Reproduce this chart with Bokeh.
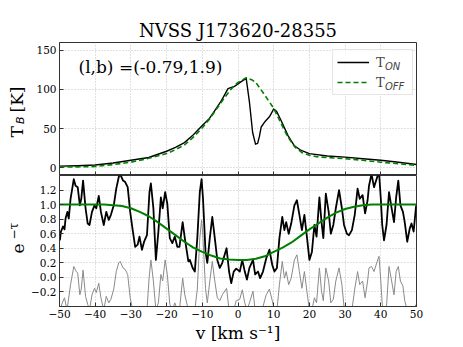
import math
from bokeh.plotting import figure
from bokeh.models import (Range1d, FixedTicker, CustomJSTickFormatter, Label,
                          Legend, LegendItem, CustomLabelingPolicy)
from bokeh.layouts import column, row
from bokeh.embed import file_html
from bokeh.resources import INLINE

# ---------------- data ----------------
title_text = "NVSS J173620-28355"
coord_text = "(l,b) =(-0.79,1.9)"
xlabel_text = "v [km s\u207b\u00b9]"
legend_main = ["T", "T"]
legend_sub = ["ON", "OFF"]

x_ticks = [-50, -40, -30, -20, -10, 0, 10, 20, 30, 40, 50]
tb_ticks = [0, 50, 100, 150]
tau_ticks = [-0.2, 0.0, 0.2, 0.4, 0.6, 0.8, 1.0, 1.2]

# emission: on-source
v_on = [-50, -45, -40, -35, -30, -25, -20, -17.5, -15, -12.5, -10, -8, -6.5, -4.6,
        -2.8, -1, 0.9, 2.3, 3.2, 4.1, 4.9, 5.5, 6.0, 6.5, 7.4, 8.8, 10.0, 10.8,
        12.1, 14.0, 15.8, 17.7, 20, 25, 30, 35, 40, 45, 50]
t_on = [2, 2.5, 3.5, 6, 9.5, 13, 21, 26, 32, 42, 54, 63, 73, 86,
        101, 104, 110, 114, 84, 45, 30, 31, 40, 52, 58, 65, 75, 72,
        60, 41, 28, 22, 18, 15, 13.5, 11.5, 9.5, 7, 4]

# emission: off-source (expected)
v_off = [-50, -45, -40, -35, -30, -25, -20, -17.5, -15, -12.5, -10, -8, -6, -4, -2,
         0, 2.3, 4, 5, 7, 8.5, 10, 12, 14, 16, 18, 20, 22, 25, 30, 35, 40, 45, 50]
t_off = [1, 1, 1.5, 4, 7, 12, 18, 23, 29, 39, 51, 62, 75, 88, 100,
         109, 115, 112, 109, 96, 86, 76, 57, 39, 26, 19, 16, 14, 13, 11.5, 9.5, 7, 5, 3]

# absorption spectrum e^-tau
v_abs = [-49.9, -49.6, -49.0, -48.6, -48.3, -47.8, -47.4, -46.9, -46.0, -45.5, -44.9,
         -44.3, -43.9, -43.4, -42.7, -42.1, -41.6, -40.9, -40.2, -39.7, -39.0, -38.4,
         -37.6, -36.9, -36.2, -35.6, -34.8, -34.1, -33.4, -33.0, -32.2, -31.6, -30.9,
         -30.2, -29.5, -28.8, -28.1, -27.6, -26.9, -26.3, -25.5, -24.8, -24.4, -23.7,
         -23.0, -22.3, -21.6, -21.1, -20.4, -19.8, -19.1, -18.4, -17.7, -17.0, -16.4,
         -15.5, -14.9, -13.9, -13.5, -12.7, -12.1, -11.4, -10.7, -10.2, -9.8, -9.1,
         -8.6, -7.9, -7.2, -6.5, -5.8, -5.1, -4.4, -3.2, -2.5, -1.9, -1.2, -0.5, 0.5,
         1.2, 1.9, 2.5, 3.2, 4.2, 4.8, 5.6, 6.2, 7.0, 7.9, 8.8, 9.6, 10.2, 10.9, 11.6,
         12.4, 13.0, 13.5, 14.2, 14.9, 15.8, 16.5, 17.2, 17.9, 18.6, 19.3, 20.0, 20.7,
         21.4, 22.0, 22.8, 23.4, 23.9, 24.6, 25.4, 26.0, 26.7, 27.4, 28.3, 29.1, 29.7,
         30.5, 31.1, 31.9, 32.7, 33.5, 34.1, 34.9, 35.6, 36.3, 36.7, 37.4, 38.1, 39.0,
         39.5, 40.0, 40.4, 40.9, 41.6, 42.3, 42.9, 43.7, 44.3, 44.9, 45.5, 46.2, 46.7,
         47.4, 48.1, 48.6, 49.2, 49.9]
e_tau = [0.51, 0.63, 0.70, 0.66, 0.81, 0.90, 0.81, 1.08, 1.35, 1.26, 1.24,
         0.99, 1.08, 1.33, 0.95, 0.74, 0.72, 0.90, 0.99, 0.95, 1.12, 0.90,
         0.72, 0.90, 0.79, 0.86, 0.99, 1.22, 1.38, 1.42, 1.33, 1.31, 1.24,
         0.90, 0.65, 0.42, 0.45, 0.56, 0.38, 0.49, 0.58, 1.17, 1.29, 0.95,
         0.24, 0.63, 1.10, 0.95, 1.17, 1.01, 0.54, 0.47, 0.56, 0.42, 0.42,
         0.76, 0.54, 0.22, 0.24, 0.13, 0.08, 0.54, 1.17, 1.35, 1.08, 0.35,
         0.20, 0.54, 0.83, 0.54, 0.24, 0.13, 0.20, 0.40, 0.08, -0.08, 0.08, 0.12, 0.08,
         0.24, 0.08, -0.03, 0.13, 0.24, 0.04, 0.08, -0.01, 0.08, 0.26, 0.38, 0.17, 0.08, 0.13, 0.54,
         0.83, 0.65, 0.76, 0.60, 0.74, 0.99, 1.06, 0.86, 0.65, 0.86, 0.56, 0.24, 0.35,
         0.72, 0.56, 1.10, 0.76, 0.54, 1.15, 0.90, 0.60, 0.72, 0.95, 1.20, 0.95, 0.72,
         0.60, 0.58, 0.65, 0.86, 1.22, 1.08, 1.13, 0.88, 1.06, 1.26, 1.42, 1.24, 1.38,
         1.45, 1.08, 0.72, 0.51, 0.72, 1.17, 0.99, 0.76, 1.10, 1.33, 0.99, 0.90, 0.76,
         0.49, 0.67, 0.74, 0.63, 0.99]

# residual (grey)
v_res = [-49.9, -49.2, -48.6, -47.9, -46.9, -46.0, -45.3, -44.9, -44.3, -43.9, -43.4,
         -42.7, -42.1, -41.6, -40.9, -40.2, -39.7, -39.0, -38.4, -37.6, -36.9, -36.2,
         -35.6, -34.8, -34.1, -33.4, -33.0, -32.2, -31.6, -30.9, -30.2, -29.5, -25.5,
         -24.9, -24.4, -23.7, -23.0, -22.3, -21.6, -21.1, -20.4, -19.8, -19.1, -18.4,
         -17.7, -17.0, -16.4, -15.5, -14.9, -13.9, -12.1, -11.4, -10.7, -10.2, -9.8,
         -9.1, -8.6, -7.9, -7.2, -6.5, -5.8, -5.1, -4.4, -3.2, -2.5, -1.2, -0.5, 0.5,
         1.2, 1.9, 2.5, 3.2, 4.2, 4.8, 7.0, 7.9, 8.8, 9.6, 10.2, 10.9, 11.6, 12.4, 13.0,
         13.5, 14.2, 14.9, 15.8, 16.5, 17.2, 17.9, 18.6, 19.3, 20.0, 20.7, 21.4, 22.0,
         22.8, 23.4, 23.9, 24.6, 25.4, 26.0, 26.7, 27.4, 28.3, 29.1, 29.7, 30.5, 31.9,
         32.7, 33.5, 34.1, 34.9, 35.6, 36.3, 36.7, 37.4, 38.1, 39.0, 39.5, 40.0, 40.4,
         40.9, 41.6, 42.3, 42.9, 43.7, 44.3, 44.9, 45.5, 46.2, 46.7, 47.4, 49.2, 49.9]
resid = [-0.45, -0.35, -0.28, -0.45, -0.10, 0.15, 0.08, 0.06, -0.24, -0.16, 0.10,
         -0.26, -0.37, -0.45, -0.24, -0.15, -0.21, -0.08, -0.28, -0.45, -0.26, -0.35,
         -0.30, -0.16, 0.08, 0.20, 0.22, 0.13, 0.11, 0.04, -0.28, -0.45, -0.45,
         -0.01, 0.24, -0.05, -0.45, -0.35, 0.04, -0.05, 0.24, 0.04, -0.37, -0.45,
         -0.35, -0.45, -0.45, -0.01, -0.24, -0.45, -0.45, -0.16, 0.54, 0.79, 0.54,
         -0.15, -0.35, -0.05, 0.22, -0.05, -0.28, -0.32, -0.24, -0.15, -0.45, -0.45, -0.32, -0.30,
         -0.17, -0.35, -0.45, -0.35, -0.19, -0.45, -0.40, -0.24, -0.16, -0.32, -0.45, -0.45, -0.10, 0.22, -0.01,
         0.08, -0.10, -0.01, 0.24, 0.31, 0.08, -0.15, 0.08, -0.19, -0.45, -0.45, -0.28, -0.35,
         0.13, -0.19, -0.32, 0.13, -0.05, -0.35, -0.30, -0.05, 0.13, -0.10, -0.40, -0.45, -0.45,
         -0.16, 0.08, -0.10, -0.05, -0.28, -0.05, 0.13, 0.15, 0.08, 0.22, 0.29, -0.05, -0.37,
         -0.45, -0.40, 0.15, -0.01, -0.24, 0.08, 0.15, -0.05, -0.12, -0.32, -0.45, -0.45, -0.37]

# Gaussian fit to absorption (green)
v_fit = [-50, -47.5, -45, -42.5, -40, -37.5, -35, -32.5, -30, -27.5, -25, -22.5, -20,
         -17.5, -15, -12.5, -10, -7.5, -5, -2.5, 0, 2.5, 5, 7.5, 10, 12.5, 15, 17.5,
         20, 22.5, 25, 27.5, 30, 32.5, 35, 37.5, 40, 42.5, 45, 47.5, 50]
e_fit = [1.0, 1.0, 1.0, 1.0, 1.0, 1.0, 0.99, 0.98, 0.95, 0.90, 0.84, 0.76, 0.67,
         0.58, 0.49, 0.41, 0.35, 0.30, 0.26, 0.245, 0.24, 0.24, 0.255, 0.29, 0.35, 0.41,
         0.48, 0.57, 0.66, 0.74, 0.82, 0.89, 0.94, 0.97, 0.99, 1.0, 1.0, 1.0, 1.0, 1.0, 1.0]

# ---------------- styling ----------------
SERIF = "DejaVu Serif"
SANS = "DejaVu Sans"
FRAME = "#333333"
LW = 28            # width of the strip that holds the rotated y labels
PW = 427           # width of the plot panels
H1, H2 = 175, 170  # heights of the two panels
LEFT, RIGHT = 29, 39


def fmt(digits):
    return CustomJSTickFormatter(code=(
        "return (tick < 0 ? '\u2212' : '') + Math.abs(tick).toFixed(%d);" % digits))


def style_axis(ax, ticks, digits, show_labels=True):
    ax.ticker = FixedTicker(ticks=ticks)
    ax.formatter = fmt(digits)
    ax.major_tick_in = 4
    ax.major_tick_out = 0
    ax.minor_tick_in = 0
    ax.minor_tick_out = 0
    ax.axis_line_color = FRAME
    ax.major_tick_line_color = FRAME
    ax.major_label_text_font = SERIF
    ax.major_label_text_color = "black"
    if show_labels:
        ax.major_label_text_font_size = "10.5px"
        ax.major_label_standoff = 3
    else:
        ax.major_label_text_font_size = "0px"
        ax.major_label_standoff = 0
        ax.major_label_policy = CustomLabelingPolicy(code="return new Set()")


def style_grid(p):
    for g in (p.xgrid, p.ygrid):
        g.grid_line_color = "#bdbdbd"
        g.grid_line_dash = "1 2"
        g.grid_line_alpha = 0.9


def lab(p, text, x, y, size, font=SERIF, style="normal", angle=0.0,
        align="left", baseline="alphabetic", level="annotation"):
    p.add_layout(Label(x=x, y=y, x_units="screen", y_units="screen", text=text,
                       text_font=font, text_font_size=size, text_font_style=style,
                       text_color="black", angle=angle, text_align=align,
                       text_baseline=baseline, level=level))


# ---------------- top panel ----------------
p1 = figure(width=PW, height=H1, x_range=Range1d(-50, 50), y_range=Range1d(-10, 160),
            output_backend="svg", toolbar_location=None, title=title_text,
            min_border_left=LEFT, min_border_right=RIGHT,
            min_border_top=42, min_border_bottom=0)
p1.outline_line_color = FRAME
p1.title.align = "center"
p1.title.text_font = SERIF
p1.title.text_font_size = "18px"
p1.title.text_font_style = "normal"
p1.title.text_color = "black"
p1.title.standoff = 3
style_axis(p1.xaxis[0], x_ticks, 0, show_labels=False)
style_axis(p1.yaxis[0], tb_ticks, 0)
style_grid(p1)

r_on = p1.line(v_on, t_on, line_color="black", line_width=1.4, line_join="round")
r_off = p1.line(v_off, t_off, line_color="#008000", line_width=1.6, line_dash="5 3")

legend = Legend(items=[LegendItem(label=legend_main[0], renderers=[r_on]),
                       LegendItem(label=legend_main[1], renderers=[r_off])],
                location=(273, 80), padding=4, spacing=4, margin=0,
                glyph_width=32, glyph_height=16, label_height=16, label_width=32,
                label_standoff=7, label_text_font=SERIF, label_text_font_size="13px",
                border_line_color="#cccccc", border_line_width=1,
                background_fill_alpha=0.8)
p1.add_layout(legend)

# subscripts of the legend entries: a second, frameless legend with zero-width glyphs
legend_subs = Legend(items=[LegendItem(label=legend_sub[0], renderers=[r_on]),
                            LegendItem(label=legend_sub[1], renderers=[r_off])],
                     location=(326, 81), padding=0, spacing=4, margin=0,
                     glyph_width=0, glyph_height=16, label_height=16, label_width=10,
                     label_standoff=0, label_text_font=SANS,
                     label_text_font_style="italic", label_text_font_size="10px",
                     border_line_color=None, background_fill_alpha=0.0)
p1.add_layout(legend_subs)

lab(p1, coord_text, 19, 109, "17px")

# ---------------- bottom panel ----------------
p2 = figure(width=PW, height=H2, x_range=Range1d(-50, 50), y_range=Range1d(-0.4, 1.4),
            output_backend="svg", toolbar_location=None,
            min_border_left=LEFT, min_border_right=RIGHT,
            min_border_top=0, min_border_bottom=37)
p2.outline_line_color = FRAME
style_axis(p2.xaxis[0], x_ticks, 0)
style_axis(p2.yaxis[0], tau_ticks, 1)
style_grid(p2)
p2.xaxis.axis_label = xlabel_text
p2.xaxis.axis_label_text_font = SERIF
p2.xaxis.axis_label_text_font_size = "17px"
p2.xaxis.axis_label_text_font_style = "normal"
p2.xaxis.axis_label_text_color = "black"
p2.xaxis.axis_label_standoff = 2

p2.line(v_res, resid, line_color="#8a8a8a", line_width=1.0, line_join="round")
p2.line(v_abs, e_tau, line_color="black", line_width=1.8, line_join="round")
p2.line(v_fit, e_fit, line_color="#008000", line_width=2.0, line_join="round")

# ---------------- strip with the rotated y-axis labels ----------------
H = H1 + H2
pl = figure(width=LW, height=H, x_range=Range1d(0, 1), y_range=Range1d(0, 1),
            output_backend="svg", toolbar_location=None,
            x_axis_location=None, y_axis_location=None,
            min_border_left=0, min_border_right=0, min_border_top=0, min_border_bottom=0)
pl.outline_line_color = None
pl.xgrid.visible = False
pl.ygrid.visible = False
up = math.pi / 2
# T_B [K]
lab(pl, "T", 16, H - 137, "17px", angle=up, baseline="middle")
lab(pl, "B", 20, H - 123.5, "11px", font=SANS, style="italic", angle=up, baseline="middle")
lab(pl, "[K]", 16, H - 112, "17px", angle=up, baseline="middle")
# e^-tau
lab(pl, "e", 17, H - 253, "17px", angle=up, baseline="middle")
lab(pl, "\u2212\u03c4", 13, H - 239, "12px", angle=up, baseline="middle")

layout = row(pl, column(p1, p2))
open("out.html", "w").write(file_html(layout, INLINE))
